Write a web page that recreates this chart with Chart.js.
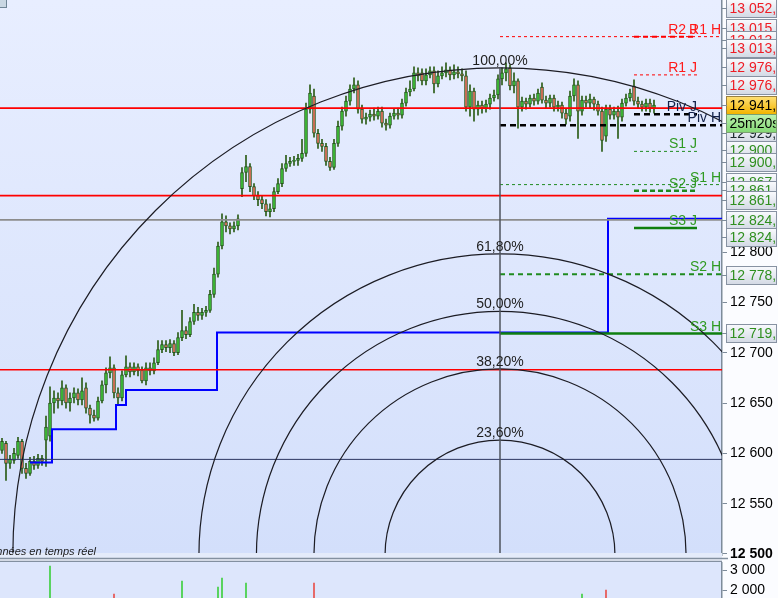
<!DOCTYPE html>
<html><head><meta charset="utf-8">
<script src="https://cdn.jsdelivr.net/npm/chart.js@4.4.1/dist/chart.umd.min.js"></script>
<style>
html,body{margin:0;padding:0;background:#fff;overflow:hidden;}
#wrap{position:relative;width:778px;height:598px;}
canvas{position:absolute;left:0;display:block;}
#main{top:0;}
#vol{top:562px;}
</style></head>
<body><div id="wrap"><canvas id="main" width="778" height="598"></canvas><canvas id="vol" width="778" height="36"></canvas></div>
<script>
// ---------------- data ----------------
const candleOpen = [
12603,12610,12590,12593,12598,12612,12585,12580,12592,12588,
12595,12613,12617,12650,12655,12652,12665,12650,12655,12660,
12653,12665,12645,12638,12635,12652,12668,12680,12685,12660,
12655,12678,12686,12681,12686,12683,12672,12685,12682,12690,
12703,12708,12705,12709,12700,12715,12722,12718,12731,12740,
12737,12740,12742,12758,12778,12806,12830,12826,12823,12826,
12863,12879,12885,12865,12856,12852,12848,12840,12843,12860,
12868,12883,12888,12890,12891,12893,12898,12942,12955,12918,
12908,12905,12890,12884,12908,12925,12940,12950,12962,12966,
12942,12932,12934,12937,12935,12940,12928,12926,12935,12938,
12936,12948,12959,12962,12978,12978,12970,12976,12980,12967,
12975,12978,12981,12976,12979,12977,12975,12944,12960,12942,
12946,12943,12947,12953,12956,12972,12978,12983,12965,12970,
12944,12950,12947,12953,12950,12964,12951,12948,12953,12944,
12946,12938,12935,12955,12966,12940,12951,12948,12952,12947,
12940,12915,12942,12936,12940,12934,12948,12953,12965,12950,
12947,12944,12948,12943];
const candleHigh = [
12615,12612,12598,12605,12616,12614,12590,12596,12597,12599,
12598,12637,12666,12662,12660,12672,12668,12660,12665,12664,
12675,12670,12648,12643,12656,12672,12685,12696,12688,12665,
12682,12697,12690,12690,12689,12686,12690,12690,12695,12712,
12712,12712,12713,12712,12720,12742,12726,12735,12748,12745,
12744,12746,12762,12784,12810,12838,12836,12829,12830,12837,
12884,12896,12888,12868,12860,12856,12852,12848,12864,12873,
12888,12896,12894,12895,12897,12912,12948,12966,12962,12922,
12912,12908,12894,12912,12930,12944,12955,12966,12973,12970,
12946,12938,12941,12943,12944,12944,12932,12938,12942,12943,
12952,12963,12970,12984,12983,12982,12982,12984,12984,12980,
12984,12988,12984,12986,12984,12982,12980,12966,12963,12950,
12950,12951,12957,12961,12976,12983,12988,12986,12978,12972,
12954,12953,12956,12957,12962,12968,12955,12956,12956,12950,
12949,12942,12960,12972,12970,12955,12955,12957,12954,12950,
12944,12946,12946,12944,12945,12952,12957,12962,12971,12954,
12950,12952,12952,12951];
const candleLow = [
12600,12573,12585,12590,12595,12580,12575,12578,12584,12585,
12588,12587,12612,12640,12645,12648,12645,12642,12650,12648,
12648,12640,12630,12632,12633,12650,12660,12675,12655,12648,
12652,12676,12676,12678,12677,12670,12668,12678,12679,12688,
12700,12701,12700,12697,12698,12712,12714,12716,12728,12732,
12733,12736,12740,12755,12775,12803,12820,12818,12820,12822,
12855,12870,12860,12852,12846,12843,12836,12835,12840,12858,
12865,12880,12885,12886,12886,12890,12895,12938,12914,12903,
12900,12886,12881,12882,12905,12921,12935,12946,12958,12938,
12928,12927,12930,12931,12932,12924,12921,12923,12932,12932,
12933,12945,12955,12960,12970,12966,12966,12973,12958,12964,
12972,12974,12971,12972,12973,12970,12940,12935,12930,12936,
12938,12939,12942,12950,12952,12966,12970,12961,12958,12923,
12940,12942,12944,12946,12947,12948,12943,12944,12940,12940,
12933,12927,12930,12950,12913,12936,12944,12943,12941,12936,
12900,12910,12932,12932,12913,12930,12945,12950,12946,12943,
12940,12940,12939,12938];
const candleClose = [
12612,12590,12594,12600,12612,12585,12580,12592,12588,12595,
12592,12626,12650,12655,12652,12665,12650,12655,12660,12653,
12662,12645,12638,12635,12652,12668,12680,12685,12660,12655,
12678,12686,12681,12686,12682,12672,12685,12682,12690,12703,
12708,12705,12709,12700,12715,12722,12718,12731,12740,12737,
12740,12742,12758,12778,12806,12830,12826,12823,12826,12833,
12879,12885,12865,12856,12852,12848,12840,12843,12860,12868,
12883,12888,12890,12891,12893,12898,12942,12958,12918,12908,
12905,12890,12884,12908,12925,12940,12950,12962,12966,12942,
12932,12934,12937,12935,12940,12928,12926,12935,12938,12936,
12948,12959,12962,12978,12975,12970,12976,12980,12967,12975,
12978,12981,12976,12979,12977,12975,12944,12960,12942,12946,
12943,12947,12953,12956,12972,12978,12982,12965,12970,12944,
12950,12947,12953,12950,12958,12951,12948,12953,12944,12946,
12938,12932,12955,12966,12940,12951,12948,12952,12947,12940,
12911,12942,12936,12940,12934,12948,12953,12958,12950,12947,
12944,12948,12943,12946];

// price-axis tick labels
const priceTicks = [12500, 12550, 12600, 12650, 12700, 12750, 12800];
const volumeTicks = [2000, 3000];
// full-width horizontal price lines
const hLineValues = [12943, 12856, 12832, 12683, 12594];
// pivot levels
const levelNames  = ['R2 J','R1 H','R1 J','Piv J','Piv H','S1 J','S1 H','S2 J','S3 J','S2 H','S3 H'];
const levelValues = [13014, 13014, 12976, 12937, 12926, 12900, 12867, 12861, 12824, 12778, 12719];
// blue stepped line (bar index, price)
const stepX = [7, 12.5, 28.5, 31, 53.75, 151.5, 180];
const stepY = [12591, 12624, 12648, 12663, 12720, 12833, 12833];
// Fibonacci arcs
const fibAnchorX = 124.5;
const fibLow = 12499;
const fibHigh = 12983;
const fibRatios = [1, 0.618, 0.5, 0.382, 0.236];
const fibLabels = ['100,00%','61,80%','50,00%','38,20%','23,60%'];
// price-axis boxed labels
const axisLabelValues = [13052.0,13015.0,13013.0,13013.1,12976.0,12976.0,12941.0,12929.0,12900.0,12900.0,12867.0,12861.0,12861.1,12824.0,12824.0,12778.0,12719.1];
const axisLabelKind   = ['R','R','R','R','R','R','last','piv','S','S','S','S','S','S','S','S','S'];
const countdownText = '25m20s';
// volume (only the spikes visible in the panel)
const volIndex = [12, 28, 45, 54, 55, 61, 78, 145, 151];
const volValue = [3200, 1800, 2450, 2150, 2600, 2350, 2350, 1800, 2000];
const volUp    = [true, false, true, true, true, true, false, true, false];

// ---------------- helpers ----------------
const FONT = '"Liberation Sans", Arial, sans-serif';
Chart.defaults.font.family = FONT;
function fmt(v, dec) {
  const s = Number(v).toFixed(dec || 0).split('.');
  const int = s[0].replace(/\B(?=(\d{3})+(?!\d))/g, ' ');
  return dec ? int + ',' + s[1] : int;
}
const X_MIN = -0.5, X_MAX = 180;
const J_START = 158, J_END = 173.75, H_START = fibAnchorX, H_END = X_MAX;

const idx = candleOpen.map((_, i) => i);
const upColor = '#3fc43a', downColor = '#e8735f';

const datasets = [];
const hColors = ['#ff0000','#ff0000','#8c8c8c','#ff0000','#2c3560'];
hLineValues.forEach((v, k) => datasets.push({
  type:'line', data:[{x:X_MIN,y:v},{x:X_MAX,y:v}], borderColor:hColors[k],
  borderWidth: k === 4 ? 1 : 1.6, pointRadius:0, order:-3
}));
const levelStyle = {
  'R2 J':{c:'#ff0000',w:2,d:[5,4]}, 'R1 H':{c:'#ff0000',w:1,d:[3,3]}, 'R1 J':{c:'#ff0000',w:1,d:[3,3]},
  'Piv J':{c:'#000000',w:2.5,d:[6,4]}, 'Piv H':{c:'#000000',w:2.5,d:[6,4]},
  'S1 J':{c:'#1f8a1f',w:1,d:[3,3]}, 'S1 H':{c:'#1f8a1f',w:1,d:[3,3]}, 'S2 J':{c:'#1f8a1f',w:2.5,d:[5,3]},
  'S3 J':{c:'#0f7f0f',w:2.5,d:[]}, 'S2 H':{c:'#1f8a1f',w:2,d:[5,4]}, 'S3 H':{c:'#0f7f0f',w:2.5,d:[]}
};
levelNames.forEach((n, k) => {
  const st = levelStyle[n];
  const isJ = n.endsWith('J');
  datasets.push({type:'line', data:[{x:isJ?J_START:H_START,y:levelValues[k]},{x:isJ?J_END:H_END,y:levelValues[k]}],
    borderColor:st.c, borderWidth:st.w, borderDash:st.d, pointRadius:0, order:-2});
});
datasets.push({type:'line', data: stepX.map((x,k)=>({x, y:stepY[k]})), stepped:'before',
  borderColor:'#0000ff', borderWidth:2, pointRadius:0, order:-1});
datasets.push({type:'bar', data: idx.map(i => ({x:i, y:[candleOpen[i], candleClose[i]]})),
  backgroundColor: idx.map(i => candleClose[i] >= candleOpen[i] ? upColor : downColor),
  borderColor:'#24561a', borderWidth:1, borderSkipped:false, barThickness:3, grouped:false, order:1});
datasets.push({type:'bar', data: idx.map(i => ({x:i, y:[candleLow[i], candleHigh[i]]})),
  backgroundColor:'#2b5c16', barThickness:1, grouped:false, order:2});

const bgPlugin = {
  id:'bg',
  beforeDraw(chart) {
    const {ctx, chartArea:a, width, height} = chart;
    ctx.save();
    ctx.fillStyle = '#fbfcff'; ctx.fillRect(0, 0, width, height);
    const g = ctx.createLinearGradient(0, a.top, 0, a.bottom);
    g.addColorStop(0, '#e8eeff'); g.addColorStop(1, '#d3dffb');
    ctx.fillStyle = g; ctx.fillRect(a.left, a.top, a.right - a.left, a.bottom - a.top);
    ctx.restore();
  }
};

const overlayPlugin = {
  id:'overlay',
  afterDatasetsDraw(chart) {
    const {ctx, chartArea:a, scales:{x, y}} = chart;
    ctx.save();
    ctx.beginPath(); ctx.rect(a.left, a.top, a.right - a.left, a.bottom - a.top); ctx.clip();
    const cx = x.getPixelForValue(fibAnchorX), cy = y.getPixelForValue(fibLow);
    const R = cy - y.getPixelForValue(fibHigh);
    ctx.strokeStyle = '#1c1c24'; ctx.lineWidth = 1.2;
    fibRatios.forEach(r => { ctx.beginPath(); ctx.arc(cx, cy, R * r, Math.PI, 2 * Math.PI); ctx.stroke(); });
    ctx.strokeStyle = '#4e535c'; ctx.lineWidth = 1.5;
    ctx.beginPath(); ctx.moveTo(cx, cy - R); ctx.lineTo(cx, a.bottom); ctx.stroke();
    ctx.font = '14px ' + FONT; ctx.fillStyle = '#1e1e1e'; ctx.textAlign = 'center'; ctx.textBaseline = 'alphabetic';
    fibRatios.forEach((r, i) => ctx.fillText(fibLabels[i], cx, cy - R * r - 3));
    ctx.textAlign = 'right';
    levelNames.forEach((n, k) => {
      const isJ = n.endsWith('J');
      const px = isJ ? x.getPixelForValue(J_END) : x.getPixelForValue(H_END) - 1;
      ctx.fillStyle = n.startsWith('R') ? '#ff1a1a' : n.startsWith('S') ? '#2f9a22' : '#14224a';
      ctx.fillText(n, px, y.getPixelForValue(levelValues[k]) - 3);
    });
    ctx.restore();
  },
  afterDraw(chart) {
    const {ctx, chartArea:a, width} = chart;
    ctx.save();
    ctx.fillStyle = '#e4ebfa'; ctx.fillRect(0, a.bottom - 2, a.right, 5);
    ctx.fillStyle = '#eef2fb'; ctx.fillRect(0, a.bottom + 3, a.right, 5);
    ctx.strokeStyle = '#8390a0'; ctx.lineWidth = 1.5;
    ctx.beginPath(); ctx.moveTo(0, 558.5); ctx.lineTo(a.right + 6, 558.5); ctx.stroke();
    ctx.beginPath(); ctx.moveTo(0, 561.5); ctx.lineTo(a.right, 561.5); ctx.stroke();
    ctx.font = 'italic 11px ' + FONT; ctx.fillStyle = '#1a1a1a'; ctx.textAlign = 'right'; ctx.textBaseline = 'alphabetic';
    ctx.fillText('Données en temps réel', 96, 555);
    ctx.fillStyle = '#c9d7e3'; ctx.fillRect(0, 0, 7, 8);
    ctx.strokeStyle = '#6f8596'; ctx.lineWidth = 1; ctx.strokeRect(-0.5, -0.5, 7, 8);
    const tops = [-1,19,31,39,58,76,96,124,141,153,173,181,191,211,228,266,324];
    const drawBox = (top, text, fillA, fillB, border, color) => {
      const bx = 726.5, bw = 50, bh = 18;
      ctx.save();
      const g = ctx.createLinearGradient(0, top, 0, top + bh);
      g.addColorStop(0, fillA); g.addColorStop(1, fillB);
      ctx.fillStyle = g; ctx.fillRect(bx, top + 0.5, bw, bh);
      ctx.strokeStyle = border; ctx.lineWidth = 1; ctx.strokeRect(bx, top + 0.5, bw, bh);
      ctx.beginPath(); ctx.rect(bx + 1, top + 1, bw - 2, bh - 1); ctx.clip();
      ctx.font = '14px ' + FONT; ctx.fillStyle = color; ctx.textAlign = 'left'; ctx.textBaseline = 'middle';
      ctx.fillText(text, bx + 3, top + bh / 2 + 1.5);
      ctx.restore();
      ctx.strokeStyle = '#7d8b9a'; ctx.beginPath(); ctx.moveTo(722, top + 9.5); ctx.lineTo(727, top + 9.5); ctx.stroke();
    };
    axisLabelValues.forEach((v, k) => {
      const kind = axisLabelKind[k];
      const txt = fmt(v, 2);
      if (kind === 'last') drawBox(tops[k], txt, '#ffe27a', '#f3b400', '#9a8040', '#000');
      else if (kind === 'piv') drawBox(tops[k], txt, '#fafbfe', '#d4dae5', '#8792a2', '#1e2a30');
      else drawBox(tops[k], txt, '#fafbfe', '#d4dae5', '#8792a2', kind === 'R' ? '#ee1c25' : '#2f8f1f');
      if (kind === 'piv') drawBox(114, countdownText, '#bff2b2', '#84d874', '#7aa070', '#000');
    });
    ctx.restore();
  }
};

new Chart(document.getElementById('main'), {
  type:'bar',
  data:{datasets},
  options:{
    responsive:false, animation:false, devicePixelRatio:1,
    layout:{padding:{left:0, right:0, top:0, bottom:43}},
    plugins:{legend:{display:false}, tooltip:{enabled:false}},
    scales:{
      x:{type:'linear', min:X_MIN, max:X_MAX, display:false, offset:false},
      y:{type:'linear', position:'right', min:12499, max:13050.4,
        afterBuildTicks: s => { s.ticks = priceTicks.map(v => ({value:v})); },
        ticks:{color:'#000', padding:3, autoSkip:false,
          font: c => ({family:FONT, size:14, weight: (c.tick && c.tick.value === 12500) ? 'bold' : 'normal'}),
          callback: v => fmt(v, 0)},
        grid:{drawOnChartArea:false, tickLength:5, color:'#7d8b9a'},
        border:{color:'#7d8b9a', width:1.5},
        afterFit: s => { s.width = 56; s.paddingTop = 0; s.paddingBottom = 0; }
      }
    }
  },
  plugins:[bgPlugin, overlayPlugin]
});

const volBg = {
  id:'volbg',
  beforeDraw(chart) {
    const {ctx, chartArea:a, width, height} = chart;
    ctx.save();
    ctx.fillStyle = '#fbfcff'; ctx.fillRect(0, 0, width, height);
    ctx.fillStyle = '#dde6fc'; ctx.fillRect(a.left, a.top, a.right - a.left, a.bottom - a.top);
    ctx.restore();
  }
};
new Chart(document.getElementById('vol'), {
  type:'bar',
  data:{datasets:[{data: volIndex.map((i, k) => ({x:i, y:volValue[k]})),
    backgroundColor: volUp.map(u => u ? '#3fcf3f' : '#e8504a'), barThickness:1, grouped:false}]},
  options:{
    responsive:false, animation:false, devicePixelRatio:1,
    layout:{padding:0},
    plugins:{legend:{display:false}, tooltip:{enabled:false}},
    scales:{
      x:{type:'linear', min:X_MIN, max:X_MAX, display:false, offset:false},
      y:{position:'right', min:1600, max:3400,
        afterBuildTicks: s => { s.ticks = volumeTicks.map(v => ({value:v})); },
        ticks:{color:'#000', padding:3, autoSkip:false, font:{family:FONT, size:14}, callback: v => fmt(v, 0)},
        grid:{drawOnChartArea:false, tickLength:5, color:'#7d8b9a'},
        border:{color:'#7d8b9a', width:1.5},
        afterFit: s => { s.width = 56; s.paddingTop = 0; s.paddingBottom = 0; }
      }
    }
  },
  plugins:[volBg]
});
</script>
</body></html>
